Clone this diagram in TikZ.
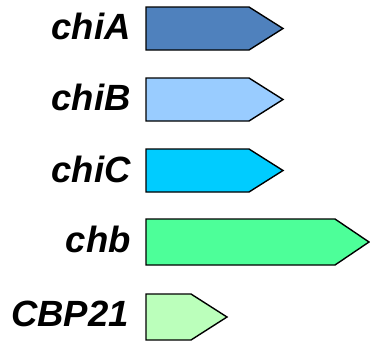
\documentclass[tikz,border=0pt]{standalone}
\usepackage{fontspec}
\setmainfont{Liberation Sans}
\definecolor{cA}{HTML}{4F81BD}
\definecolor{cB}{HTML}{99CCFF}
\definecolor{cC}{HTML}{00CCFF}
\definecolor{cD}{HTML}{4DFF99}
\definecolor{cE}{HTML}{BBFFBB}
\begin{document}
\begin{tikzpicture}[x=1pt,y=-1pt,
  gene/.style={draw=black,line width=1.4pt,line join=miter},
  lbl/.style={anchor=base east,inner sep=0pt,font=\fontsize{36.5}{40}\selectfont\bfseries\itshape}]
\useasboundingbox (0,0) rectangle (370,341);
\newcommand{\genearrow}[5]{% color, top, bottom, shoulder, tip
  \path[gene,fill=#1] (146,#2) -- (#4,#2) -- (#5,{(#2+#3)/2}) -- (#4,#3) -- (146,#3) -- cycle;}
\genearrow{cA}{7}{50}{249}{283}
\genearrow{cB}{78}{121}{249}{283}
\genearrow{cC}{149}{192}{249}{283}
\genearrow{cD}{219}{265}{335}{369}
\genearrow{cE}{294}{340}{191}{227}
\node[lbl] (la) at (131,39) {chiA};
\node[lbl] (lb) at (131,110) {chiB};
\node[lbl] (lc) at (131,182) {chiC};
\node[lbl] (ld) at (131,252) {chb};
\node[lbl] (le) at (129,326) {CBP21};
\end{tikzpicture}
\end{document}
